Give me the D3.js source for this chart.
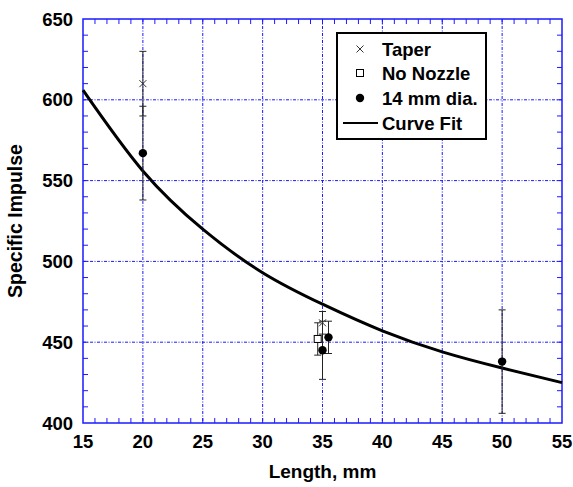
<!DOCTYPE html>
<html>
<head>
<meta charset="utf-8">
<script src="https://cdn.jsdelivr.net/npm/d3@7"></script>
<style>
  body { margin: 0; background: #fff; }
  text { font-family: "Liberation Sans", Arial, sans-serif; font-weight: bold; }
</style>
</head>
<body>
<div id="chart"></div>
<script>
// values
const taperX = [20, 35]
const taperY = [610, 462]
const taperErr = [20, 7]

const noNozzleX = [34.6]
const noNozzleY = [452]
const noNozzleErr = [10]

const diaX = [20, 35, 35.5, 50]
const diaY = [567, 445, 453, 438]
const diaErr = [29, 18, 10, 32]

const fitX = [15, 20, 25, 30, 35, 40, 45, 50, 55]
const fitY = [606, 556, 520, 493, 473.5, 457, 444, 434, 425]

const xTicks = [15, 20, 25, 30, 35, 40, 45, 50, 55]
const yTicks = [400, 450, 500, 550, 600, 650]
const legendLabels = ["Taper", "No Nozzle", "14 mm dia.", "Curve Fit"]

const W = 573, H = 487
const margin = {top: 19, right: 11, bottom: 64, left: 83},
    width = W - margin.left - margin.right,
    height = H - margin.top - margin.bottom;

const svg = d3.select("#chart")
  .append("svg")
    .attr("width", W)
    .attr("height", H)
  .append("g")
    .attr("transform", `translate(${margin.left}, ${margin.top})`);

const x = d3.scaleLinear().domain([15, 55]).range([0, width])
const y = d3.scaleLinear().domain([400, 650]).range([height, 0])

const blue = "#1a1aff"

// grid
svg.append("g")
  .selectAll("line")
  .data(xTicks.slice(1, -1))
  .join("line")
    .attr("x1", d => x(d)).attr("x2", d => x(d))
    .attr("y1", 0).attr("y2", height)
    .attr("stroke", blue).attr("stroke-width", 1)
    .attr("stroke-dasharray", "3,1.5,1,1.5")
svg.append("g")
  .selectAll("line")
  .data(yTicks.slice(1, -1))
  .join("line")
    .attr("y1", d => y(d)).attr("y2", d => y(d))
    .attr("x1", 0).attr("x2", width)
    .attr("stroke", blue).attr("stroke-width", 1)
    .attr("stroke-dasharray", "3,1.5,1,1.5")

// minor ticks, pointing inward on all four sides
const xMinor = d3.range(16, 55, 1)
const yMinor = d3.range(410, 650, 10)
const tl = 5
const ticks = svg.append("g").attr("stroke", blue).attr("stroke-width", 1)
ticks.selectAll(".xb").data(xMinor).join("line")
  .attr("x1", d => x(d)).attr("x2", d => x(d)).attr("y1", height).attr("y2", height - tl)
ticks.selectAll(".xt").data(xMinor).join("line")
  .attr("x1", d => x(d)).attr("x2", d => x(d)).attr("y1", 0).attr("y2", tl)
ticks.selectAll(".yl").data(yMinor).join("line")
  .attr("y1", d => y(d)).attr("y2", d => y(d)).attr("x1", 0).attr("x2", tl)
ticks.selectAll(".yr").data(yMinor).join("line")
  .attr("y1", d => y(d)).attr("y2", d => y(d)).attr("x1", width).attr("x2", width - tl)

// frame
svg.append("rect")
  .attr("width", width).attr("height", height)
  .attr("fill", "none").attr("stroke", blue).attr("stroke-width", 1.5)

// tick labels
svg.append("g")
  .selectAll("text")
  .data(xTicks)
  .join("text")
    .attr("x", d => x(d))
    .attr("y", height + 25)
    .attr("text-anchor", "middle")
    .style("font-size", "18.5px")
    .text(d => d)
svg.append("g")
  .selectAll("text")
  .data(yTicks)
  .join("text")
    .attr("x", -10)
    .attr("y", d => y(d) + 6.5)
    .attr("text-anchor", "end")
    .style("font-size", "18.5px")
    .text(d => d)

// axis titles
svg.append("text")
  .attr("x", width / 2)
  .attr("y", height + 55)
  .attr("text-anchor", "middle")
  .style("font-size", "19px")
  .text("Length, mm")
svg.append("text")
  .attr("transform", `translate(${-61}, ${height / 2}) rotate(-90)`)
  .attr("text-anchor", "middle")
  .style("font-size", "19.5px")
  .text("Specific Impulse")

// curve fit
const fit = fitX.map((d, i) => ({x: d, y: fitY[i]}))
svg.append("path")
  .datum(fit)
  .attr("fill", "none")
  .attr("stroke", "#000")
  .attr("stroke-width", 3)
  .attr("d", d3.line().x(d => x(d.x)).y(d => y(d.y)).curve(d3.curveNatural))

// error bars
function errorBars(xs, ys, es) {
  const g = svg.append("g").attr("stroke", "#222").attr("stroke-width", 1)
  xs.forEach((xv, i) => {
    const top = y(ys[i] + es[i]), bot = y(ys[i] - es[i]), px = x(xv)
    g.append("line").attr("x1", px).attr("x2", px).attr("y1", top).attr("y2", bot)
    g.append("line").attr("x1", px - 3.5).attr("x2", px + 3.5).attr("y1", top).attr("y2", top)
    g.append("line").attr("x1", px - 3.5).attr("x2", px + 3.5).attr("y1", bot).attr("y2", bot)
  })
}
errorBars(diaX, diaY, diaErr)
errorBars(noNozzleX, noNozzleY, noNozzleErr)
errorBars(taperX, taperY, taperErr)

// markers
function cross(g, px, py) {
  const s = 3.5
  g.append("path")
    .attr("d", `M${px - s},${py - s}L${px + s},${py + s}M${px - s},${py + s}L${px + s},${py - s}`)
    .attr("stroke", "#333").attr("stroke-width", 1).attr("fill", "none")
}
function square(g, px, py) {
  g.append("rect")
    .attr("x", px - 3.5).attr("y", py - 3.5).attr("width", 7).attr("height", 7)
    .attr("fill", "#fff").attr("stroke", "#000").attr("stroke-width", 1)
}
function dot(g, px, py) {
  g.append("circle").attr("cx", px).attr("cy", py).attr("r", 4.2).attr("fill", "#000")
}

const marks = svg.append("g")
noNozzleX.forEach((d, i) => square(marks, x(d), y(noNozzleY[i])))
diaX.forEach((d, i) => dot(marks, x(d), y(diaY[i])))
taperX.forEach((d, i) => cross(marks, x(d), y(taperY[i])))

// legend
const lg = svg.append("g").attr("transform", `translate(${337 - margin.left}, ${33 - margin.top})`)
lg.append("rect")
  .attr("width", 149).attr("height", 106)
  .attr("fill", "#fff").attr("stroke", "#000").attr("stroke-width", 2)
const rowY = [16, 40, 65, 90]
cross(lg, 23, rowY[0])
square(lg, 23, rowY[1])
dot(lg, 23, rowY[2])
lg.append("line").attr("x1", 6).attr("x2", 41).attr("y1", rowY[3]).attr("y2", rowY[3])
  .attr("stroke", "#000").attr("stroke-width", 2)
lg.selectAll(".lab")
  .data(legendLabels)
  .join("text")
    .attr("x", 45)
    .attr("y", (d, i) => rowY[i] + 6.5)
    .style("font-size", "18.5px")
    .text(d => d)
</script>
</body>
</html>
